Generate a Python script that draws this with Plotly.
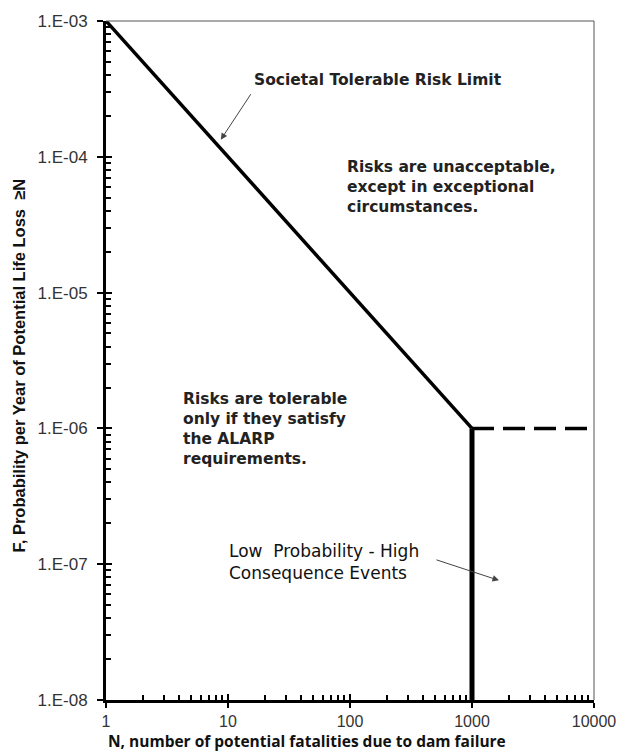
import plotly.graph_objects as go

# ---- data ----
limit_N = [1, 1000]            # societal tolerable risk limit (solid diagonal)
limit_F = [1e-3, 1e-6]
cutoff_N = [1000, 1000]        # vertical limit at N = 1000
cutoff_F = [1e-6, 1e-8]
dash_N = [1000, 10000]         # dashed extension
dash_F = [1e-6, 1e-6]

x_tickvals = [1, 10, 100, 1000, 10000]
x_ticktext = ["1", "10", "100", "1000", "10000"]
y_tickvals = [1e-3, 1e-4, 1e-5, 1e-6, 1e-7, 1e-8]
y_ticktext = ["1.E-03", "1.E-04", "1.E-05", "1.E-06", "1.E-07", "1.E-08"]

x_minor = [m * 10 ** d for d in range(0, 4) for m in range(2, 10)]
y_minor = [m * 10.0 ** d for d in range(-8, -3) for m in range(2, 10)]

FONT = "Arial, Liberation Sans, sans-serif"
WIDE = "DejaVu Sans, Verdana, sans-serif"

fig = go.Figure()
fig.add_trace(go.Scatter(x=limit_N, y=limit_F, mode="lines",
                         line=dict(color="black", width=3.5), showlegend=False, hoverinfo="skip"))
fig.add_trace(go.Scatter(x=cutoff_N, y=cutoff_F, mode="lines",
                         line=dict(color="black", width=5), showlegend=False, hoverinfo="skip"))
fig.add_trace(go.Scatter(x=dash_N, y=dash_F, mode="lines", xaxis="x2", yaxis="y2",
                         line=dict(color="black", width=3.5, dash="22px,9px"),
                         showlegend=False, hoverinfo="skip"))

xr = [0, 4]
yr = [-8, -3]

fig.update_layout(
    width=628, height=753,
    margin=dict(l=106, r=29, t=19, b=53),
    paper_bgcolor="white", plot_bgcolor="white",
    font=dict(family=FONT, color="#333"),
    xaxis=dict(type="log", range=xr, tickvals=x_tickvals, ticktext=x_ticktext,
               showgrid=False, zeroline=False, showline=True, linecolor="black", linewidth=3,
               ticks="outside", ticklen=5, tickwidth=2, tickcolor="black",
               tickfont=dict(size=16, color="#333"), ticklabelstandoff=0,
               minor=dict(tickvals=x_minor, ticks="inside", ticklen=5, tickwidth=2,
                          tickcolor="black", showgrid=False)),
    yaxis=dict(type="log", range=yr, tickvals=y_tickvals, ticktext=y_ticktext,
               showgrid=False, zeroline=False, showline=True, linecolor="black", linewidth=3,
               ticks="outside", ticklen=6, tickwidth=2, tickcolor="black",
               tickfont=dict(size=17, color="#333"), ticklabelstandoff=6,
               minor=dict(tickvals=y_minor, ticks="inside", ticklen=5, tickwidth=2,
                          tickcolor="black", showgrid=False)),
    xaxis2=dict(type="log", range=xr, overlaying="x", anchor="y2", side="bottom",
                tickvals=x_tickvals, ticks="inside", ticklen=6, tickwidth=2, tickcolor="black",
                showticklabels=False, showgrid=False, zeroline=False, showline=False),
    yaxis2=dict(type="log", range=yr, overlaying="y", anchor="x2", side="left",
                tickvals=y_tickvals, ticks="inside", ticklen=6, tickwidth=2, tickcolor="black",
                showticklabels=False, showgrid=False, zeroline=False, showline=False),
    shapes=[
        dict(type="line", xref="x domain", yref="y domain", x0=0, x1=1, y0=1, y1=1,
             line=dict(color="#555", width=1)),
        dict(type="line", xref="x domain", yref="y domain", x0=1, x1=1, y0=0, y1=1,
             line=dict(color="#555", width=1)),
    ],
)

ann_font = dict(family=WIDE, size=15.5, color="#222")
annotations = [
    dict(text="<b>Societal Tolerable Risk Limit</b>", x=1.193, y=-3.433,
         xanchor="left", yanchor="middle", showarrow=False, font=ann_font),
    dict(text="", x=0.941, y=-3.874, showarrow=True, ax=31, ay=-47,
         arrowhead=2, arrowsize=1.3, arrowwidth=1, arrowcolor="#444"),
    dict(text="<b>Risks are unacceptable,<br>except in exceptional<br>circumstances.</b>",
         x=1.955, y=-4.226, xanchor="left", yanchor="middle", align="left",
         showarrow=False, font=ann_font),
    dict(text="<b>Risks are tolerable<br>only if they satisfy<br>the ALARP<br>requirements.</b>",
         x=0.617, y=-6.003, xanchor="left", yanchor="middle", align="left",
         showarrow=False, font=ann_font),
    dict(text="Low  Probability - High<br>Consequence Events",
         x=0.990, y=-6.983, xanchor="left", yanchor="middle", align="left",
         showarrow=False, font=dict(family=WIDE, size=17, color="#111")),
    dict(text="", x=3.221, y=-7.119, showarrow=True, ax=-64, ay=-21,
         arrowhead=2, arrowsize=1.3, arrowwidth=1, arrowcolor="#444"),
    dict(text="<b>N, number of potential fatalities due to dam failure</b>",
         xref="paper", yref="paper", x=0, y=0, yshift=-41, xanchor="left", yanchor="middle",
         showarrow=False, font=dict(family="Open Sans, sans-serif", size=15.5, color="#111")),
    dict(text="<b>F, Probability per Year of Potential Life Loss  \u2265N</b>",
         xref="paper", yref="paper", x=0, xshift=-88, y=0.5, yshift=-5, textangle=-90,
         xanchor="center", yanchor="middle", showarrow=False,
         font=dict(family=FONT, size=16.5, color="#111")),
]
fig.update_layout(annotations=annotations)

fig.write_html("out.html")
